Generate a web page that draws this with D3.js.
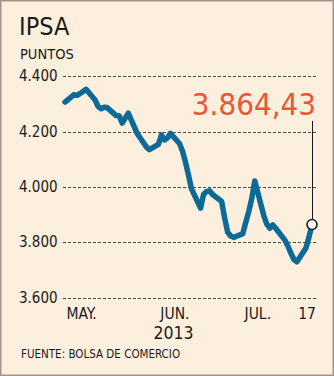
<!DOCTYPE html>
<html>
<head>
<meta charset="utf-8">
<script src="https://cdn.jsdelivr.net/npm/d3@7"></script>
<style>
  html, body { margin: 0; padding: 0; background: #fcefde; }
  svg { display: block; }
  text { font-family: "DejaVu Sans Condensed", "DejaVu Sans", sans-serif; font-stretch: condensed; fill: #1a1a1a; }
</style>
</head>
<body>
<svg id="chart" width="334" height="376"></svg>
<script>
// IPSA closing values (points), daily, 26 Apr – 17 Jul 2013
const dates = [
  "2013-04-26","2013-04-29","2013-04-30","2013-05-01","2013-05-02","2013-05-03",
  "2013-05-06","2013-05-07","2013-05-08","2013-05-09","2013-05-10",
  "2013-05-13","2013-05-14","2013-05-15","2013-05-16","2013-05-17",
  "2013-05-20","2013-05-21","2013-05-22","2013-05-23","2013-05-24",
  "2013-05-27","2013-05-28","2013-05-29","2013-05-30","2013-05-31",
  "2013-06-03","2013-06-04","2013-06-05","2013-06-06","2013-06-07",
  "2013-06-10","2013-06-11","2013-06-12","2013-06-13","2013-06-14",
  "2013-06-17","2013-06-18","2013-06-19","2013-06-20","2013-06-21",
  "2013-06-24","2013-06-25","2013-06-26","2013-06-27","2013-06-28",
  "2013-07-01","2013-07-02","2013-07-03","2013-07-04","2013-07-05",
  "2013-07-08","2013-07-09","2013-07-10","2013-07-11","2013-07-12",
  "2013-07-15","2013-07-16","2013-07-17"
];
const values = [
  4307, 4334, 4331, 4338, 4345, 4353,
  4314, 4291, 4283, 4288, 4287,
  4258, 4257, 4231, 4249, 4267,
  4193, 4177, 4161, 4145, 4135,
  4154, 4188, 4170, 4177, 4194,
  4157, 4130, 4090, 4043, 3993,
  3924, 3973, 3984, 3986, 3973,
  3948, 3888, 3837, 3823, 3818,
  3831, 3872, 3911, 3958, 4022,
  3896, 3866, 3851, 3863, 3850,
  3808, 3787, 3761, 3738, 3730,
  3780, 3819, 3864.43
];
const yTicks = [3600, 3800, 4000, 4200, 4400];
const monthTicks = ["2013-05-01", "2013-06-01", "2013-07-01"];
const monthLabels = ["MAY.", "JUN.", "JUL."];
const lastDayLabel = "17";
const yearLabel = "2013";
const title = "IPSA";
const unitLabel = "PUNTOS";
const sourceLabel = "FUENTE: BOLSA DE COMERCIO";

const parse = d3.timeParse("%Y-%m-%d");
const data = dates.map((d, i) => ({ date: parse(d), value: values[i] }));
const last = data[data.length - 1];

// Spanish-style number formatting: "." thousands, "," decimals
const es = d3.formatLocale({ decimal: ",", thousands: ".", grouping: [3], currency: ["$", ""] });
const fmtTick = es.format(",.0f");
const fmtValue = es.format(",.2f");

const svg = d3.select("#chart");
const W = 334, H = 376;

// frame
svg.append("rect")
  .attr("x", 0.75).attr("y", 0.75)
  .attr("width", W - 1.5).attr("height", H - 1.5)
  .attr("fill", "#fcefde")
  .attr("stroke", "#a5938c").attr("stroke-width", 1.5);

const x = d3.scaleTime()
  .domain([data[0].date, last.date])
  .range([65, 312]);
const y = d3.scaleLinear()
  .domain([3600, 4400])
  .range([297.7, 76.3]);

const gridX0 = 63, gridX1 = 316;

// horizontal dashed gridlines with value labels
const yAxis = svg.append("g");
yAxis.selectAll("line").data(yTicks).join("line")
  .attr("x1", gridX0).attr("x2", gridX1)
  .attr("y1", d => Math.round(y(d)) + 0.5).attr("y2", d => Math.round(y(d)) + 0.5)
  .attr("stroke", "#4a4a4a").attr("stroke-width", 1)
  .attr("stroke-dasharray", "3,2");
yAxis.selectAll("text").data(yTicks).join("text")
  .attr("x", 19).attr("y", d => y(d) + 5)
  .attr("font-size", 15)
  .text(d => fmtTick(d));

// title block
svg.append("text").attr("x", 19).attr("y", 34.5).attr("font-size", 25).text(title);
svg.append("text").attr("x", 20).attr("y", 59).attr("font-size", 14.5).text(unitLabel);

// x labels
const xAxis = svg.append("g");
xAxis.selectAll("text.month").data(monthTicks).join("text")
  .attr("class", "month")
  .attr("x", d => x(parse(d)))
  .attr("dx", (d, i) => i === 2 ? -6 : 1.5)
  .attr("y", 318.5)
  .attr("text-anchor", "middle")
  .attr("font-size", 15.5)
  .text((d, i) => monthLabels[i]);
xAxis.append("text")
  .attr("x", gridX1).attr("y", 318.5)
  .attr("text-anchor", "end")
  .attr("font-size", 15.5)
  .text(lastDayLabel);
xAxis.append("text")
  .attr("x", x(parse(monthTicks[1]))).attr("y", 338.5)
  .attr("text-anchor", "middle")
  .attr("font-size", 17.5)
  .text(yearLabel);

// source
svg.append("text").attr("x", 21).attr("y", 358).attr("font-size", 11.5).text(sourceLabel);

// index line
const line = d3.line()
  .x(d => x(d.date))
  .y(d => y(d.value))
  .curve(d3.curveLinear);
svg.append("path")
  .datum(data)
  .attr("d", line)
  .attr("fill", "none")
  .attr("stroke", "#0b6a96")
  .attr("stroke-width", 5.5)
  .attr("stroke-linejoin", "round")
  .attr("stroke-linecap", "round");

// callout for the last close
const lx = x(last.date), ly = y(last.value);
svg.append("line")
  .attr("x1", lx + 0.5).attr("x2", lx + 0.5)
  .attr("y1", 121).attr("y2", ly)
  .attr("stroke", "#1a1a1a").attr("stroke-width", 1);
svg.append("circle")
  .attr("cx", lx).attr("cy", ly).attr("r", 5)
  .attr("fill", "#ffffff")
  .attr("stroke", "#1a1a1a").attr("stroke-width", 1.6);
svg.append("text")
  .attr("x", gridX1).attr("y", 115)
  .attr("text-anchor", "end")
  .attr("font-size", 31)
  .style("fill", "#eb5636")
  .text(fmtValue(last.value));
</script>
</body>
</html>
